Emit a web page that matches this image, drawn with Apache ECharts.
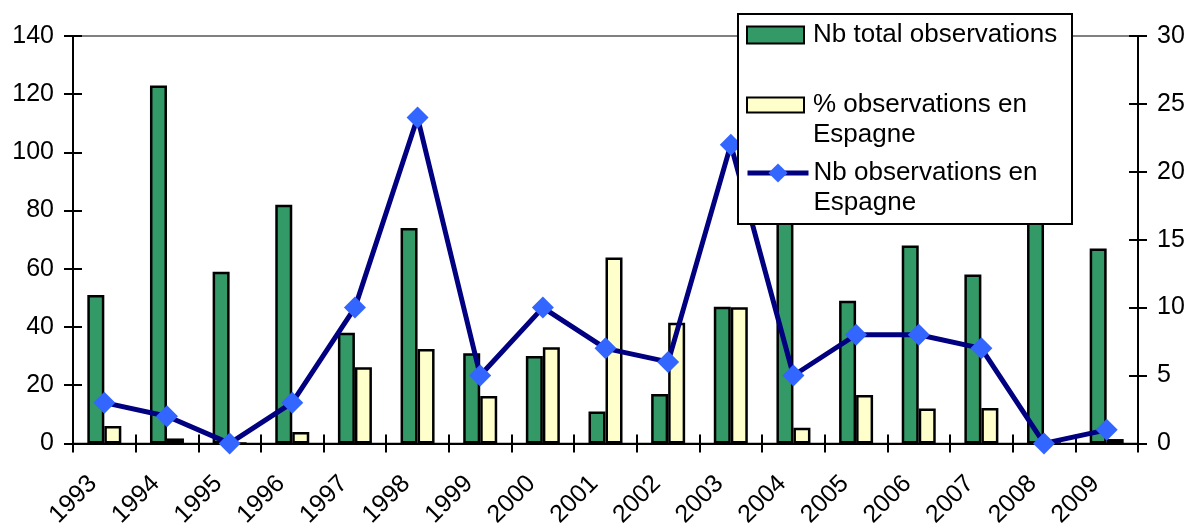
<!DOCTYPE html>
<html>
<head>
<meta charset="utf-8">
<script src="https://cdn.jsdelivr.net/npm/echarts@6/dist/echarts.min.js"></script>
<style>
  html, body { margin: 0; padding: 0; background: #ffffff; }
  #chart { width: 1190px; height: 530px; }
</style>
</head>
<body>
<div id="chart"></div>
<script>
// Yearly observations: totals, share seen in Spain (%) and count seen in Spain
const years = ['1993', '1994', '1995', '1996', '1997', '1998', '1999', '2000', '2001',
               '2002', '2003', '2004', '2005', '2006', '2007', '2008', '2009'];
const totalObs = [51, 123, 59, 82, 38, 74, 31, 30, 11, 17, 47, 93, 49, 68, 58, 84, 67];
const pctSpain = [6, 1.7, 0, 3.9, 26.2, 32.4, 16.3, 33, 63.9, 41.5, 46.8, 5.4, 16.6, 12, 12.2, 0, 1.5];
const spainObs = [3, 2, 0, 3, 10, 24, 5, 10, 7, 6, 22, 5, 8, 8, 7, 0, 1];

// Axis ranges
const leftAxis = { min: 0, max: 140, interval: 20 };
const rightAxis = { min: 0, max: 30, interval: 5 };

const NAME_TOTAL = 'Nb total observations';
const NAME_PCT = '% observations en Espagne';
const NAME_SPAIN = 'Nb observations en Espagne';

const FONT = '"Liberation Sans", Arial, sans-serif';
const BLACK = '#000000';

const chart = echarts.init(document.getElementById('chart'), null, { renderer: 'canvas' });

const tickStyle = { color: BLACK, width: 2 };
const labelStyle = { color: BLACK, fontFamily: FONT, fontSize: 25 };
const legendText = { color: BLACK, fontFamily: FONT, fontSize: 26, lineHeight: 30 };

function valueAxis(range, position, inner) {
  return Object.assign({
    type: 'value',
    position: position,
    splitLine: { show: false },
    axisLine: { show: !inner, onZero: false, lineStyle: { color: BLACK, width: 2 } },
    axisTick: { show: true, inside: inner, length: 9, lineStyle: tickStyle },
    axisLabel: inner ? { show: false } : Object.assign({ margin: 19 }, labelStyle)
  }, range);
}

// Two-line legend labels: the blank first line keeps the icon level with the first text line
const twoLineLabel = (first, second) => () => '\n' + first + '\n' + second;

const option = {
  animation: false,
  backgroundColor: '#ffffff',
  grid: {
    left: 73, right: 52, top: 36, bottom: 83,
    show: true, borderColor: '#808080', borderWidth: 2, backgroundColor: 'transparent'
  },
  xAxis: [
    {
      type: 'category',
      data: years,
      position: 'bottom',
      axisLine: { show: true, onZero: false, lineStyle: { color: BLACK, width: 2 } },
      axisTick: { show: true, length: 9, lineStyle: tickStyle },
      axisLabel: Object.assign({
        interval: 0, rotate: 45, margin: 25, padding: [0, 16, 0, 0]
      }, labelStyle),
      splitLine: { show: false }
    },
    {
      type: 'category',
      data: years,
      position: 'bottom',
      axisLine: { show: false },
      axisTick: { show: true, inside: true, length: 9, lineStyle: tickStyle },
      axisLabel: { show: false },
      splitLine: { show: false }
    }
  ],
  yAxis: [
    valueAxis(leftAxis, 'left', false),
    valueAxis(rightAxis, 'right', false),
    valueAxis(leftAxis, 'left', true),
    valueAxis(rightAxis, 'right', true)
  ],
  legend: [
    {
      data: [NAME_TOTAL],
      left: 746, top: 20,
      padding: 0,
      icon: 'rect',
      itemWidth: 57, itemHeight: 17,
      selectedMode: false,
      textStyle: Object.assign({ padding: [0, 0, 0, 4] }, legendText)
    },
    {
      data: [NAME_PCT],
      left: 746, top: 60,
      padding: 0,
      icon: 'rect',
      itemWidth: 57, itemHeight: 15,
      selectedMode: false,
      formatter: twoLineLabel('% observations en', 'Espagne'),
      textStyle: Object.assign({ padding: [0, 0, 0, 4] }, legendText)
    },
    {
      data: [NAME_SPAIN],
      left: 745, top: 128,
      padding: 0,
      itemWidth: 61, itemHeight: 24,
      selectedMode: false,
      lineStyle: { color: '#000080', width: 5 },
      formatter: twoLineLabel('Nb observations en', 'Espagne'),
      textStyle: Object.assign({ padding: 0 }, legendText)
    }
  ],
  graphic: {
    elements: [
      {
        type: 'rect',
        z: 3,
        shape: { x: 738, y: 14, width: 334, height: 210 },
        style: { fill: '#ffffff', stroke: BLACK, lineWidth: 2 }
      }
    ]
  },
  series: [
    {
      name: NAME_TOTAL,
      type: 'bar',
      xAxisIndex: 0, yAxisIndex: 0,
      data: totalObs,
      barWidth: 17,
      barGap: '0%',
      itemStyle: { color: '#339966', borderColor: BLACK, borderWidth: 2.5 }
    },
    {
      name: NAME_PCT,
      type: 'bar',
      xAxisIndex: 0, yAxisIndex: 0,
      data: pctSpain,
      barWidth: 17,
      barGap: '0%',
      itemStyle: { color: '#FFFFCC', borderColor: BLACK, borderWidth: 2.5 }
    },
    {
      name: NAME_SPAIN,
      type: 'line',
      xAxisIndex: 0, yAxisIndex: 1,
      data: spainObs,
      symbol: 'diamond',
      symbolSize: 22,
      showAllSymbol: true,
      clip: false,
      lineStyle: { color: '#000080', width: 5 },
      itemStyle: { color: '#3366FF' },
      z: 2
    }
  ]
};

chart.setOption(option);
</script>
</body>
</html>
